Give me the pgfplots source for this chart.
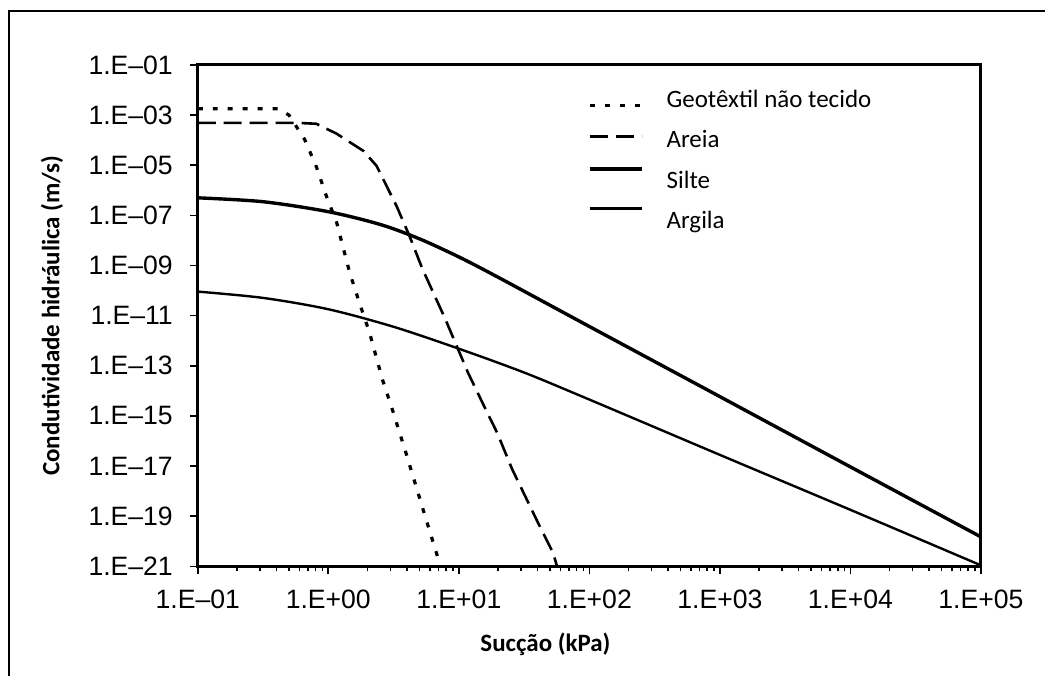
\documentclass[border=0pt]{standalone}
\usepackage{fontspec}
\setmainfont{Carlito}
\newfontfamily\arialf{Liberation Sans}
\usepackage{pgfplots}
\pgfplotsset{compat=1.18}

% legend line drawn as overlay so it can sit above/below its text
\pgfplotsset{leg off/.style={legend image code/.code={%
    \path[draw=none,fill=none] (0pt,-3pt) (26pt,3pt);
    \draw[##1,overlay] (0pt,#1) -- (26pt,#1);}}}

\begin{document}
\begin{tikzpicture}
\begin{axis}[
    name=ax,
    scale only axis,
    width=392pt, height=251pt,
    xmode=log, ymode=log,
    xmin=0.1, xmax=1e5,
    ymin=1e-21, ymax=1e-1,
    axis line style={line width=1.5pt},
    tick align=outside,
    xtick pos=bottom, ytick pos=left,
    major tick length=4pt, minor tick length=2.5pt,
    every tick/.style={black, line width=0.8pt},
    xtick={0.1,1,10,100,1000,10000,100000},
    xticklabels={1.E\textendash01,1.E+00,1.E+01,1.E+02,1.E+03,1.E+04,1.E+05},
    minor xtick={0.2,0.3,0.4,0.5,0.6,0.7,0.8,0.9,2,3,4,5,6,7,8,9,
        20,30,40,50,60,70,80,90,200,300,400,500,600,700,800,900,
        2000,3000,4000,5000,6000,7000,8000,9000,
        20000,30000,40000,50000,60000,70000,80000,90000},
    ytick={1e-1,1e-3,1e-5,1e-7,1e-9,1e-11,1e-13,1e-15,1e-17,1e-19,1e-21},
    yticklabels={1.E\textendash01,1.E\textendash03,1.E\textendash05,1.E\textendash07,1.E\textendash09,1.E\textendash11,1.E\textendash13,1.E\textendash15,1.E\textendash17,1.E\textendash19,1.E\textendash21},
    ticklabel style={font=\arialf\fontsize{13.3}{15}\selectfont},
    xticklabel style={yshift=-4.5pt},
    yticklabel style={xshift=-5pt},
    xlabel={Sucção (kPa)},
    ylabel={Condutividade hidráulica (m/s)},
    label style={font=\bfseries\fontsize{12.5}{15}\selectfont},
    xlabel style={at={(axis description cs:0.444,-0.155)}, anchor=center},
    ylabel style={at={(axis description cs:-0.186,0.5)}, anchor=center},
    legend style={at={(axis description cs:0.5,0.958)}, anchor=north west,
        draw=none, fill=none, inner sep=0pt,
        font=\fontsize{12.5}{15}\selectfont, row sep=6pt, column sep=10.5pt},
    legend cell align=left,
]
\addplot[black, line width=1.6pt, dash pattern=on 2.5pt off 5pt, leg off=-2.5pt]
    coordinates {(0.1,1.8e-3) (0.41,1.8e-3) (0.50,1.0e-3) (0.66,1.05e-4) (0.81,8.7e-6)
    (0.97,5.6e-7) (1.16,5.1e-8) (1.46,5.1e-10) (1.73,3.3e-11) (2.07,2.1e-12)
    (2.60,2.8e-14) (3.05,2.3e-15) (3.97,2.9e-17) (5.46,1.2e-19) (7.25,1e-21)};
\addlegendentry{Geotêxtil não tecido}
\addplot[black, line width=1.3pt, dash pattern=on 9pt off 4pt, leg off=2pt]
    coordinates {(0.1,4.9e-4) (0.57,4.9e-4) (0.81,4.5e-4) (1.16,1.8e-4) (1.86,3.7e-5)
    (2.34,9.5e-6) (3.33,2.4e-7) (4.19,1.5e-8) (5.26,7.4e-10) (7.88,7.3e-12)
    (11.8,5.1e-14) (16.0,1.9e-15) (19.7,2.1e-16) (25.6,7.6e-18) (40.5,5.4e-20)
    (52.8,3.4e-21) (56.6,1e-21)};
\addlegendentry{Areia}
\addplot[black, line width=1.7pt, smooth, tension=0.5, leg off=6pt]
    coordinates {(0.1,5.0e-7) (0.316,3.5e-7) (1,1.4e-7) (2.51,4.3e-8) (5.01,1.15e-8)
    (10,2.2e-9) (20,3.4e-10) (100,3.7e-12) (1000,5.9e-15) (10000,9.3e-18)
    (100000,1.5e-20)};
\addlegendentry{Silte}
\addplot[black, line width=1.2pt, smooth, tension=0.5, leg off=6.5pt]
    coordinates {(0.1,9.1e-11) (0.316,5.1e-11) (1,1.8e-11) (3.16,3.6e-12) (10,4.8e-13)
    (31.6,5.4e-14) (100,4.5e-15) (1000,2.8e-17) (10000,1.8e-19) (100000,1.1e-21)};
\addlegendentry{Argila}
\end{axis}
\draw[line width=1.2pt] ([shift={(-94.5pt,-55pt)}]ax.south west) -- ([shift={(-94.5pt,27pt)}]ax.north west) -- ([shift={(32pt,27pt)}]ax.north east);
\path ([shift={(-99pt,-55pt)}]ax.south west) rectangle ([shift={(32pt,32.5pt)}]ax.north east);
\end{tikzpicture}
\end{document}
